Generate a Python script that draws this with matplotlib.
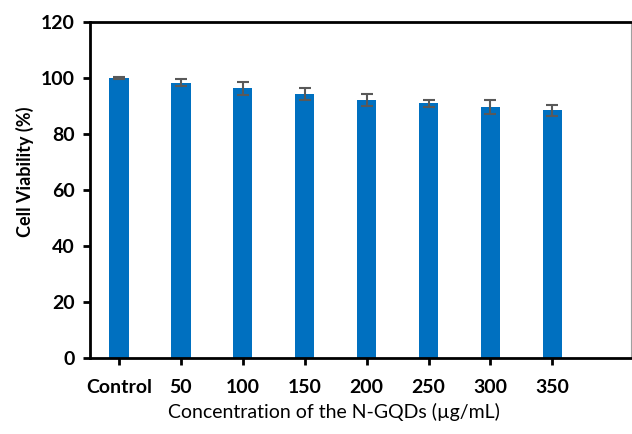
import matplotlib.pyplot as plt
import numpy as np

categories = ["Control", "50", "100", "150", "200", "250", "300", "350"]
viability = [100.0, 98.3, 96.3, 94.3, 92.2, 91.0, 89.6, 88.4]
errors = [0.3, 1.3, 2.4, 2.0, 2.2, 1.2, 2.4, 1.8]

plt.rcParams['font.family'] = ['Lato', 'DejaVu Sans']

fig = plt.figure(figsize=(6.32, 4.34), dpi=100)
ax = fig.add_axes([90/632, 76/434, 541/632, 336/434])

x = np.arange(len(categories))
ax.bar(x, viability, width=0.31, color="#0070C0", zorder=2)
ax.errorbar(x, viability, yerr=errors, fmt="none", ecolor="#595959",
            elinewidth=1.5, capsize=4, capthick=1.5, zorder=3)

ax.set_xlim(-0.47, 8.27)
ax.set_ylim(0, 120)
ax.set_yticks(range(0, 121, 20))
ax.set_xticks(x)
ax.set_xticklabels(categories)

for lab in ax.get_yticklabels() + ax.get_xticklabels():
    lab.set_fontweight("bold")
    lab.set_fontsize(14)

ax.tick_params(axis="both", direction="out", length=5, width=2, color="black")
ax.tick_params(axis="y", pad=6)
ax.tick_params(axis="x", pad=10)

for s in ["left", "top", "bottom"]:
    ax.spines[s].set_linewidth(2)
    ax.spines[s].set_color("black")
ax.spines["right"].set_linewidth(0.8)
ax.spines["right"].set_color("#a0a0a0")

ax.set_ylabel("Cell Viability (%)", fontsize=13, fontweight="bold")
ax.set_xlabel("Concentration of the N-GQDs (µg/mL)", fontsize=14)
ax.xaxis.set_label_coords(0.451, -0.135)
ax.yaxis.set_label_coords(-0.103, 0.554)

fig.savefig("out.png", dpi=100)
